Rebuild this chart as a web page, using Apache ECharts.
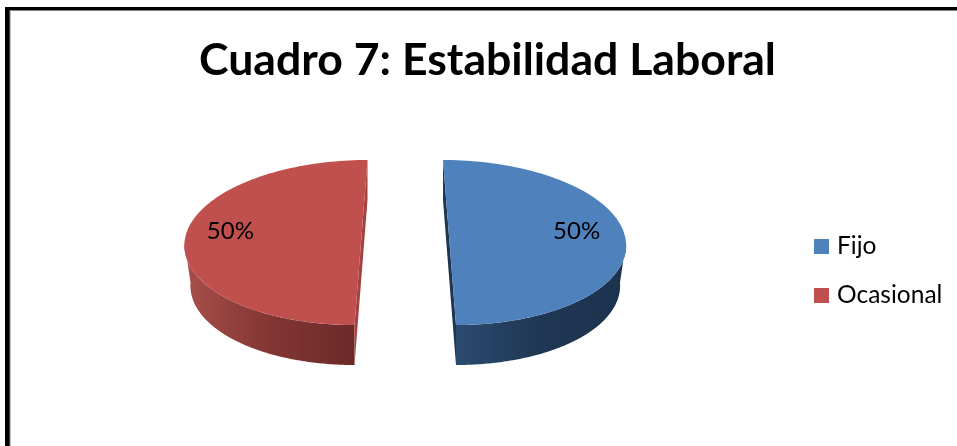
<!DOCTYPE html>
<html><head><meta charset="utf-8">
<style>html,body{margin:0;padding:0;background:#fff}#c{width:957px;height:446px}</style>
<script src="https://cdn.jsdelivr.net/npm/echarts@6/dist/echarts.min.js"></script>
</head><body><div id="c"></div>
<script>
const categories = ['Fijo', 'Ocasional'];
const values = [50, 50];
const topColors = ['#4f81bd', '#c0504d'];
const stripColors = ['#1f3550', '#a4423f'];
const wallStops = [['#2b4a70', '#1f3752', '#1c3350'], ['#a84f4b', '#833634', '#6a2a28']];

const PIE = {cx: 405.25, cy: 242.5, rx: 176.5, bottomRx: 170.5, ry: 82.5, depth: 40, explode: 44.25, shear: 6.5};
const total = values.reduce((a, b) => a + b, 0);

function renderSlice(params, api) {
  const i = params.seriesIndex;
  const v = api.value(0);
  let before = 0;
  for (let k = 0; k < i; k++) before += values[k];
  const a0 = -Math.PI / 2 + before / total * 2 * Math.PI;
  const a1 = a0 + v / total * 2 * Math.PI;
  const mid = (a0 + a1) / 2;
  const dir = Math.cos(mid) >= 0 ? 1 : -1;
  const cx = PIE.cx + PIE.explode * Math.cos(mid);
  const cy = PIE.cy;
  const pt = (t, dy, rx) => [cx + (rx || PIE.rx) * Math.cos(t) + dir * PIE.shear * Math.sin(t), cy + PIE.ry * Math.sin(t) + (dy || 0)];
  const arc = (s, e, dy, rx) => {
    const out = [], n = 120;
    for (let j = 0; j <= n; j++) out.push(pt(s + (e - s) * j / n, dy, rx));
    return out;
  };
  const wa = Math.max(a0, 0), wb = Math.min(a1, Math.PI);
  const wallTop = arc(wa, wb, 0);
  const wallBottom = arc(wa, wb, PIE.depth, PIE.bottomRx).reverse();
  const stops = wallStops[i];
  const wall = {
    type: 'polygon', shape: {points: wallTop.concat(wallBottom)},
    style: {fill: new echarts.graphic.LinearGradient(0, 0, 1, 0, [
      {offset: 0, color: stops[0]}, {offset: 0.5, color: stops[1]}, {offset: 1, color: stops[2]}
    ])}
  };
  const sTop = dir > 0 ? pt(a0) : pt(a1);
  const sBot = dir > 0 ? pt(a1) : pt(a0);
  const strip = {
    type: 'polygon',
    shape: {points: [sTop, sBot, [sBot[0], sBot[1] + PIE.depth], [sTop[0], sTop[1] + PIE.depth]]},
    style: {fill: stripColors[i]}
  };
  const top = {type: 'polygon', shape: {points: arc(a0, a1, 0)}, style: {fill: topColors[i]}};
  const label = {
    type: 'text',
    style: {
      x: cx + dir * (dir > 0 ? 0.72 : 0.74) * PIE.rx, y: cy - 0.14 * PIE.ry,
      text: Math.round(v / total * 100) + '%',
      fill: '#000', font: '24px Lato', align: 'center', verticalAlign: 'middle'
    }
  };
  return {type: 'group', children: [wall, strip, top, label]};
}

const chart = echarts.init(document.getElementById('c'), null, {renderer: 'canvas'});
chart.setOption({
  animation: false,
  backgroundColor: '#fff',
  title: {
    text: 'Cuadro 7: Estabilidad Laboral', left: 194, top: 33,
    textStyle: {fontFamily: 'Lato', fontWeight: 'bold', fontSize: 44.6, color: '#000'}
  },
  legend: {
    orient: 'vertical', left: 809, top: 229, itemWidth: 15, itemHeight: 15, itemGap: 24, itemStyle: {borderWidth: 0},
    icon: 'rect', data: categories,
    textStyle: {fontFamily: 'Lato', fontSize: 24.5, color: '#000', padding: [0, 0, 0, 3]}
  },
  graphic: [
    {type: 'rect', shape: {x: 5, y: 10, width: 5.5, height: 436}, style: {fill: '#808080'}, silent: true},
    {type: 'rect', shape: {x: 5, y: 10, width: 952, height: 1}, style: {fill: '#808080'}, silent: true},
    {type: 'rect', shape: {x: 5, y: 7, width: 952, height: 3}, style: {fill: '#000'}, silent: true},
    {type: 'rect', shape: {x: 5, y: 7, width: 4.5, height: 439}, style: {fill: '#000'}, silent: true}
  ],
  series: categories.map((name, i) => ({
    type: 'custom', name, coordinateSystem: 'none', renderItem: renderSlice,
    itemStyle: {color: topColors[i]},
    data: [[values[i]]]
  }))
});
</script></body></html>
